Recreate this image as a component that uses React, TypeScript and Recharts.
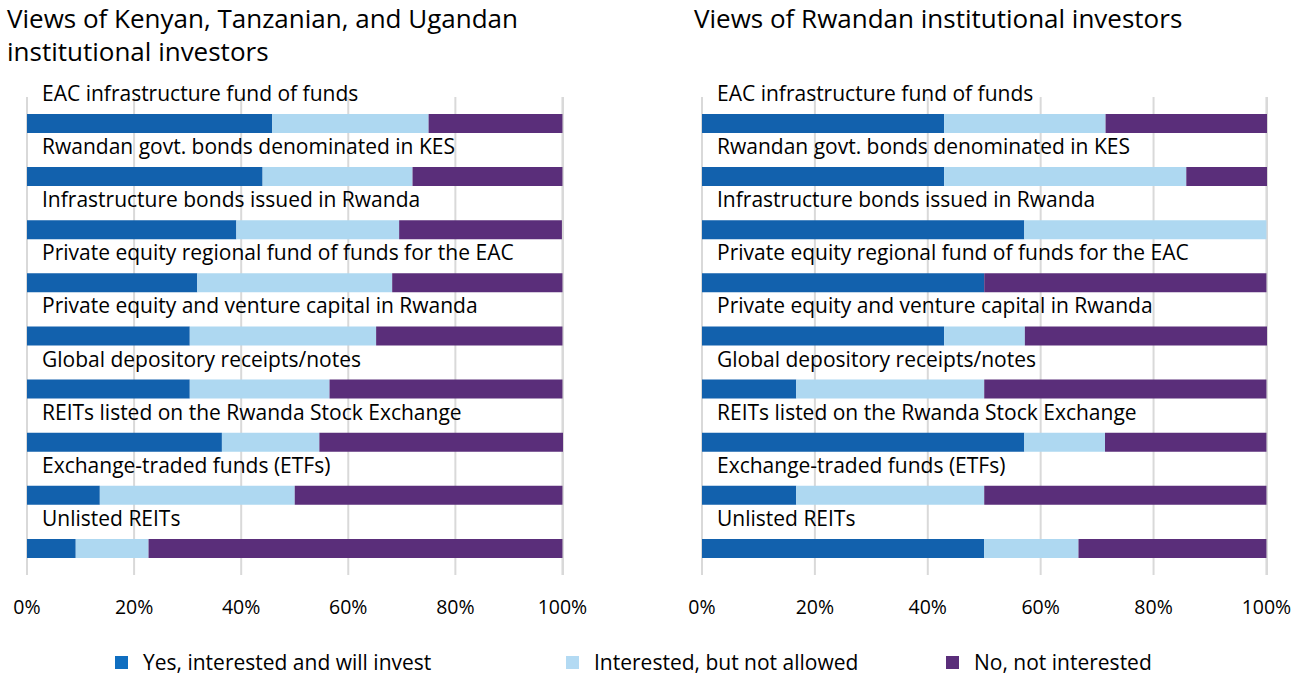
import React from "react";
import { Bar, BarChart, CartesianGrid, LabelList, XAxis, YAxis } from "recharts";

const categories = [
  "EAC infrastructure fund of funds",
  "Rwandan govt. bonds denominated in KES",
  "Infrastructure bonds issued in Rwanda",
  "Private equity regional fund of funds for the EAC",
  "Private equity and venture capital in Rwanda",
  "Global depository receipts/notes",
  "REITs listed on the Rwanda Stock Exchange",
  "Exchange-traded funds (ETFs)",
  "Unlisted REITs"
];

// Kenyan, Tanzanian and Ugandan investors (%)
const eastYes = [45.8, 44.0, 39.1, 31.8, 30.4, 30.4, 36.4, 13.6, 9.1];
const eastNotAllowed = [29.2, 28.0, 30.4, 36.4, 34.8, 26.1, 18.2, 36.4, 13.6];
const eastNo = [25.0, 28.0, 30.4, 31.8, 34.8, 43.5, 45.5, 50.0, 77.3];

// Rwandan investors (%)
const rwYes = [42.9, 42.9, 57.1, 50.0, 42.9, 16.7, 57.1, 16.7, 50.0];
const rwNotAllowed = [28.6, 42.9, 42.9, 0, 14.3, 33.3, 14.3, 33.3, 16.7];
const rwNo = [28.6, 14.3, 0, 50.0, 42.9, 50.0, 28.6, 50.0, 33.3];

const xTicks = [0, 20, 40, 60, 80, 100];

const seriesNames = [
  "Yes, interested and will invest",
  "Interested, but not allowed",
  "No, not interested"
];
const COLORS = ["#1261ad", "#aed8f1", "#5a2e7a"];
const LEGEND_COLORS = ["#0f6ec0", "#b3daf3", "#5a2e7a"];
const FONT = "'Open Sans', sans-serif";

function buildRows(yes: number[], notAllowed: number[], no: number[]) {
  return categories.map((name, i) => ({
    name,
    yes: yes[i],
    notAllowed: notAllowed[i],
    no: no[i]
  }));
}

const CategoryLabel = (props: any) => {
  const { x, y, value } = props;
  return (
    <text x={x + 15} y={y - 13} fill="#000" fontSize={21} fontFamily={FONT}>
      {value}
    </text>
  );
};

function Panel({ rows, width, marginLeft, marginRight }: any) {
  return (
    <BarChart
      width={width}
      height={630}
      data={rows}
      layout="vertical"
      barSize={19}
      margin={{ top: 97, right: marginRight, left: marginLeft, bottom: 15 }}
    >
      <CartesianGrid horizontal={false} stroke="#d9d9d9" strokeWidth={2} />
      <XAxis
        type="number"
        domain={[0, 100]}
        ticks={xTicks}
        tickFormatter={(v) => v + "%"}
        axisLine={false}
        tickLine={false}
        height={40}
        tickMargin={19}
        tick={{ fill: "#000", fontSize: 19.5, fontFamily: FONT }}
        interval={0}
      />
      <YAxis type="category" dataKey="name" hide />
      <Bar dataKey="yes" stackId="a" fill={COLORS[0]} isAnimationActive={false}>
        <LabelList dataKey="name" content={<CategoryLabel />} />
      </Bar>
      <Bar dataKey="notAllowed" stackId="a" fill={COLORS[1]} isAnimationActive={false} />
      <Bar dataKey="no" stackId="a" fill={COLORS[2]} isAnimationActive={false} />
    </BarChart>
  );
}

export default function App() {
  const eastRows = buildRows(eastYes, eastNotAllowed, eastNo);
  const rwRows = buildRows(rwYes, rwNotAllowed, rwNo);
  const titleStyle: React.CSSProperties = {
    position: "absolute",
    top: 2,
    fontSize: 26,
    lineHeight: "33px",
    fontFamily: FONT,
    color: "#000"
  };
  const legendX = [115, 566, 946];

  return (
    <div
      style={{
        position: "absolute",
        left: 0,
        top: 0,
        width: 1307,
        height: 679,
        background: "#fff",
        overflow: "hidden"
      }}
    >
      <div style={{ ...titleStyle, left: 7 }}>
        Views of Kenyan, Tanzanian, and Ugandan
        <br />
        institutional investors
      </div>
      <div style={{ ...titleStyle, left: 694 }}>Views of Rwandan institutional investors</div>
      <div style={{ position: "absolute", left: 0, top: 0 }}>
        <Panel rows={eastRows} width={600} marginLeft={27} marginRight={37} />
      </div>
      <div style={{ position: "absolute", left: 640, top: 0 }}>
        <Panel rows={rwRows} width={667} marginLeft={62} marginRight={40} />
      </div>
      {seriesNames.map((s, i) => (
        <div
          key={s}
          style={{
            position: "absolute",
            left: legendX[i],
            top: 648,
            display: "flex",
            alignItems: "center",
            fontFamily: FONT,
            fontSize: 21,
            color: "#000"
          }}
        >
          <span
            style={{
              width: 13,
              height: 13,
              background: LEGEND_COLORS[i],
              marginRight: 15,
              display: "inline-block"
            }}
          />
          {s}
        </div>
      ))}
    </div>
  );
}
